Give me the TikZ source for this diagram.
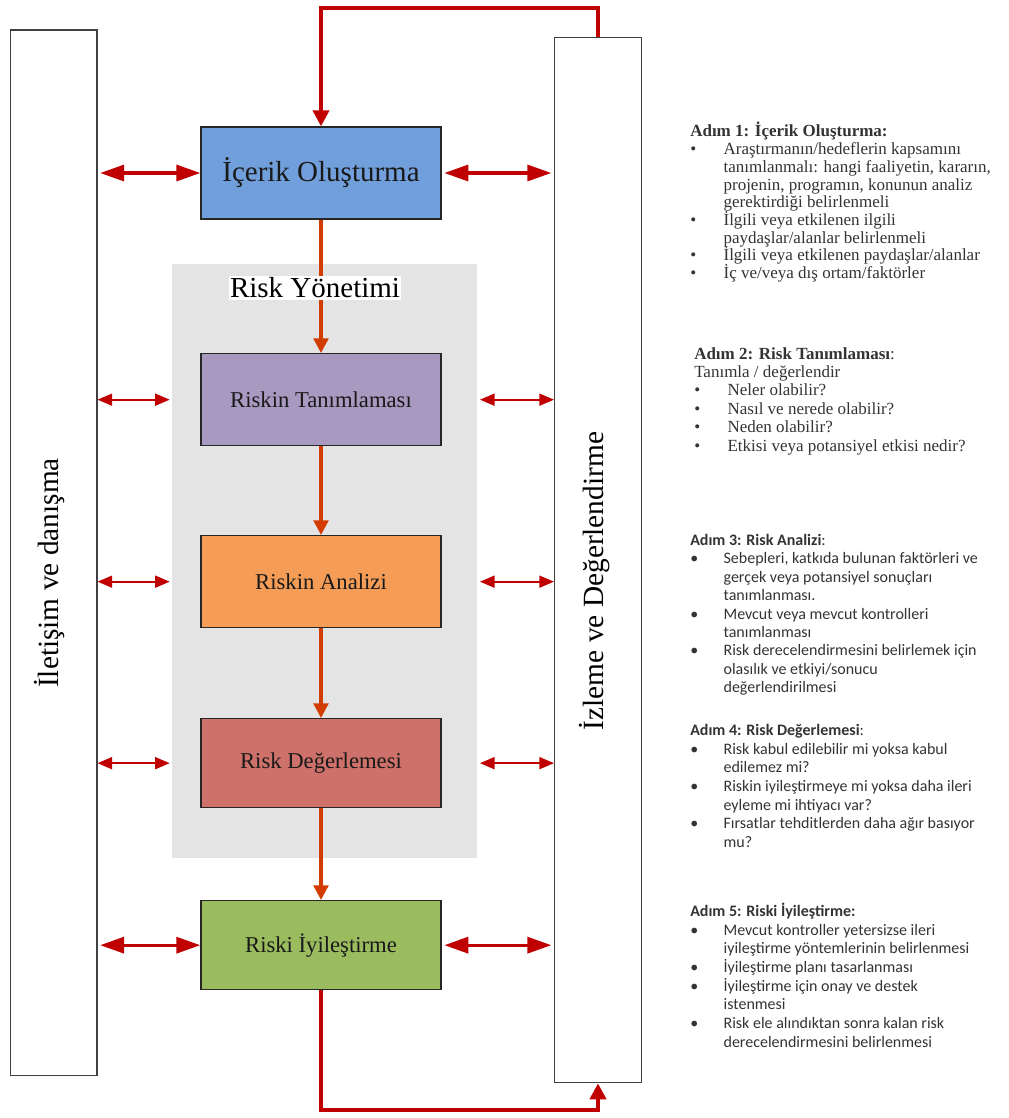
\documentclass[tikz,border=0pt]{standalone}
\usepackage{fontspec}
\setmainfont{Liberation Serif}
\newfontfamily\calibri{Carlito}
\usetikzlibrary{positioning, arrows.meta, calc}

\definecolor{koyukirmizi}{HTML}{C00000}
\definecolor{akis}{HTML}{D23C00}
\definecolor{mavi}{HTML}{719FDB}
\definecolor{mor}{HTML}{A899C0}
\definecolor{turuncu}{HTML}{F59D56}
\definecolor{kiremit}{HTML}{CD716A}
\definecolor{yesil}{HTML}{9BBB5F}
\definecolor{gri}{HTML}{E4E4E4}

\newcommand{\madde}{\makebox[25pt][l]{\textbullet}}
\newcommand{\devam}{\hspace*{25pt}}

\begin{document}
\begin{tikzpicture}[x=0.75pt, y=-0.75pt,
  kutu/.style={draw=black!85, line width=1pt, minimum width=180pt,
    minimum height=69pt, inner sep=0pt, text=black!90,
    font=\fontsize{17}{18}\selectfont},
  yanbar/.style={draw=black!75, line width=1pt, fill=white,
    minimum width=65pt, minimum height=784pt, inner sep=0pt},
  yanyazi/.style={rotate=90, inner sep=0pt,
    font=\fontsize{22}{24}\selectfont},
  adim/.style={anchor=north west, align=left, inner sep=0pt,
    text=black!80},
  kalinok/.style={koyukirmizi, line width=2.5pt,
    {Triangle[length=18pt,width=12pt]}-{Triangle[length=18pt,width=12pt]}},
  inceok/.style={koyukirmizi, line width=1.3pt,
    {Triangle[length=11pt,width=9pt]}-{Triangle[length=11pt,width=9pt]}},
  akisok/.style={akis, line width=2.5pt, -{Triangle[length=11pt,width=11pt]}},
  donusok/.style={koyukirmizi, line width=3pt, -{Triangle[length=12pt,width=12pt]}}]

  \useasboundingbox (0,0) rectangle (1009,1118);

  % risk yonetimi alani
  \node[fill=gri, minimum width=228.75pt, minimum height=445.5pt,
    inner sep=0pt] (yonetim) at (324.5,561) {};

  % yan cubuklar
  \node[yanbar] (iletisim) at (53.5,552.5) {};
  \node[yanbar] (izleme) at (598,560) {};
  \node[yanyazi] (iletisimyazi) at (50,573) {İletişim ve danışma};
  \node[yanyazi] (izlemeyazi) at (595,581) {İzleme ve Değerlendirme};

  % adim kutulari
  \node[kutu, fill=mavi, font=\fontsize{21.75}{24}\selectfont]
    (icerik) at (321,173) {İçerik Oluşturma};
  \node[kutu, fill=mor, below=100pt of icerik] (tanimlama) {Riskin Tanımlaması};
  \node[kutu, fill=turuncu, below=66.5pt of tanimlama] (analiz) {Riskin Analizi};
  \node[kutu, fill=kiremit, minimum height=66.75pt,
    below=67.25pt of analiz] (degerleme) {Risk Değerlemesi};
  \node[kutu, fill=yesil, minimum height=66.75pt,
    below=68.75pt of degerleme] (iyilestirme) {Riski İyileştirme};

  % akis oklari
  \foreach \a/\b in {icerik/tanimlama, tanimlama/analiz,
    analiz/degerleme, degerleme/iyilestirme}
    \draw[akisok] (\a) -- (\b);

  \node[fill=white, inner sep=1pt, font=\fontsize{21.75}{24}\selectfont]
    (baslik) at (315,288) {Risk Yönetimi};

  % geri donus
  \draw[donusok] (izleme.north) -- ++(0,-29) -| (icerik.north);
  \draw[donusok] (iyilestirme.south) -- ++(0,120) -| (izleme.south);

  % yan oklar
  \foreach \k in {icerik, iyilestirme}
  {
    \draw[kalinok] ([xshift=2pt]iletisim.east |- \k) -- (\k.west);
    \draw[kalinok] ([xshift=2pt]\k.east) -- ([xshift=-2pt]izleme.west |- \k);
  }
  \foreach \k/\kay in {tanimlama/-5pt, analiz/-3pt, degerleme/-1pt}
  {
    \draw[inceok, yshift=\kay] (iletisim.east |- \k) -- ([xshift=-1.5pt]yonetim.west |- \k);
    \draw[inceok, yshift=\kay] ([xshift=2pt]yonetim.east |- \k) -- (izleme.west |- \k);
  }

  % aciklamalar
  \node[adim, font=\fontsize{12.75}{13.3}\selectfont] (adim1) at (690,122)
  {\textbf{Adım 1: İçerik Oluşturma:}\\
   \madde Araştırmanın/hedeflerin kapsamını\\
   \devam tanımlanmalı: hangi faaliyetin, kararın,\\
   \devam projenin, programın, konunun analiz\\
   \devam gerektirdiği belirlenmeli\\
   \madde İlgili veya etkilenen ilgili\\
   \devam paydaşlar/alanlar belirlenmeli\\
   \madde İlgili veya etkilenen paydaşlar/alanlar\\
   \madde İç ve/veya dış ortam/faktörler};

  \node[adim, font=\fontsize{12.75}{13.8}\selectfont] (adim2) at (694,347)
  {\textbf{Adım 2: Risk Tanımlaması}:\\
   Tanımla / değerlendir\\
   \madde Neler olabilir?\\
   \madde Nasıl ve nerede olabilir?\\
   \madde Neden olabilir?\\
   \madde Etkisi veya potansiyel etkisi nedir?};

  \node[adim, font=\calibri\fontsize{12}{13.8}\selectfont] (adim3) at (690,534)
  {\textbf{Adım 3: Risk Analizi}:\\
   \madde Sebepleri, katkıda bulunan faktörleri ve\\
   \devam gerçek veya potansiyel sonuçları\\
   \devam tanımlanması.\\
   \madde Mevcut veya mevcut kontrolleri\\
   \devam tanımlanması\\
   \madde Risk derecelendirmesini belirlemek için\\
   \devam olasılık ve etkiyi/sonucu\\
   \devam değerlendirilmesi};

  \node[adim, font=\calibri\fontsize{12}{14}\selectfont] (adim4) at (690,724)
  {\textbf{Adım 4: Risk Değerlemesi}:\\
   \madde Risk kabul edilebilir mi yoksa kabul\\
   \devam edilemez mi?\\
   \madde Riskin iyileştirmeye mi yoksa daha ileri\\
   \devam eyleme mi ihtiyacı var?\\
   \madde Fırsatlar tehditlerden daha ağır basıyor\\
   \devam mu?};

  \node[adim, font=\calibri\fontsize{12}{14}\selectfont] (adim5) at (690,903)
  {\textbf{Adım 5: Riski İyileştirme:}\\
   \madde Mevcut kontroller yetersizse ileri\\
   \devam iyileştirme yöntemlerinin belirlenmesi\\
   \madde İyileştirme planı tasarlanması\\
   \madde İyileştirme için onay ve destek\\
   \devam istenmesi\\
   \madde Risk ele alındıktan sonra kalan risk\\
   \devam derecelendirmesini belirlenmesi};

\end{tikzpicture}
\end{document}
